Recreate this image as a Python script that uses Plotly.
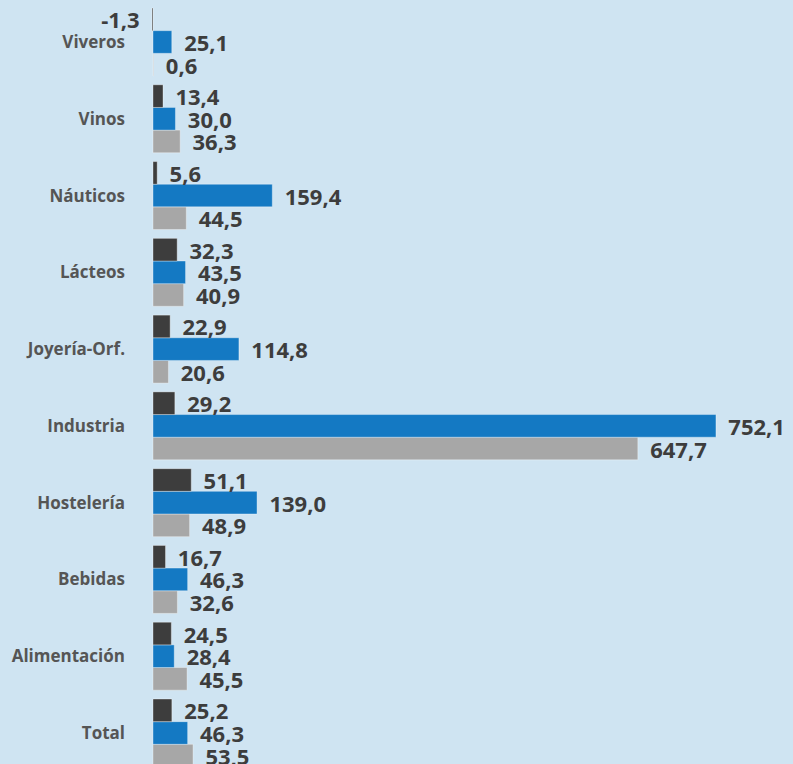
import plotly.graph_objects as go

categories = ["Total", "Alimentación", "Bebidas", "Hostelería", "Industria",
              "Joyería-Orf.", "Lácteos", "Náuticos", "Vinos", "Viveros"]
serie_oscura = [25.2, 24.5, 16.7, 51.1, 29.2, 22.9, 32.3, 5.6, 13.4, -1.3]
serie_azul = [46.3, 28.4, 46.3, 139.0, 752.1, 114.8, 43.5, 159.4, 30.0, 25.1]
serie_gris = [53.5, 45.5, 32.6, 48.9, 647.7, 20.6, 40.9, 44.5, 36.3, 0.6]

NB = "\u00a0\u2009"


def fmt(v):
    s = f"{v:.1f}".replace(".", ",")
    return (s + NB) if v < 0 else (NB + s)


fig = go.Figure()
for vals, color in [(serie_gris, "#a7a7a7"), (serie_azul, "#1479c3"), (serie_oscura, "#3d3d3d")]:
    fig.add_trace(go.Bar(
        y=categories, x=vals, orientation="h",
        marker=dict(color=color, line=dict(color="rgba(255,255,255,0.35)", width=1)),
        text=[fmt(v) for v in vals], textposition="outside",
        textfont=dict(family="Open Sans", size=22, color="#3d3d3d", weight="bold"),
        constraintext="none", cliponaxis=False, showlegend=False,
    ))

fig.update_layout(
    width=793, height=764,
    margin=dict(l=150, r=0, t=0, b=0),
    paper_bgcolor="#cfe4f2", plot_bgcolor="#cfe4f2",
    barmode="group", bargap=0.115, bargroupgap=0,
    xaxis=dict(range=[-4, 855], visible=False, showgrid=False, zeroline=False),
    yaxis=dict(range=[-0.404, 9.547], showgrid=False, zeroline=False, ticks="",
               ticklabelstandoff=24,
               tickfont=dict(family="Open Sans", size=17, color="#555555", weight="bold")),
)
fig.write_html("out.html", config={"displayModeBar": False},
               post_script="document.body.style.margin='0';document.body.style.background='#cfe4f2';")
